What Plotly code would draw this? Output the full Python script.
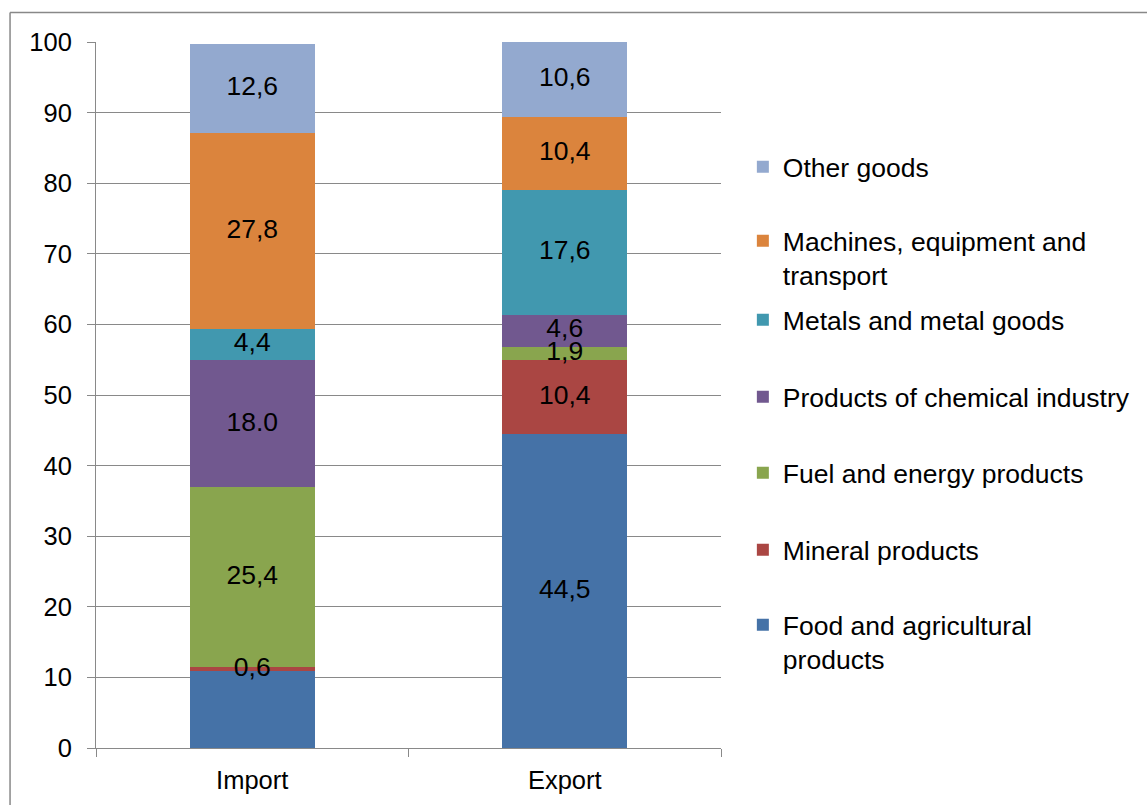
import plotly.graph_objects as go

categories = ["Import", "Export"]

series_names = [
    "Food and agricultural<br>products",
    "Mineral products",
    "Fuel and energy products",
    "Products of chemical industry",
    "Metals and metal goods",
    "Machines, equipment and<br>transport",
    "Other goods",
]
food = [10.9, 44.5]
mineral = [0.6, 10.4]
fuel = [25.4, 1.9]
chemical = [18.0, 4.6]
metals = [4.4, 17.6]
machines = [27.8, 10.4]
other = [12.6, 10.6]

food_labels = ["", "44,5"]
mineral_labels = ["0,6", "10,4"]
fuel_labels = ["25,4", "1,9"]
chemical_labels = ["18.0", "4,6"]
metals_labels = ["4,4", "17,6"]
machines_labels = ["27,8", "10,4"]
other_labels = ["12,6", "10,6"]

values = [food, mineral, fuel, chemical, metals, machines, other]
labels = [food_labels, mineral_labels, fuel_labels, chemical_labels,
          metals_labels, machines_labels, other_labels]
colors = ["#4572A7", "#AA4643", "#89A54E", "#71588F", "#4198AF", "#DB843D", "#93A9CF"]

FONT = "Liberation Sans, Arial, sans-serif"
W, H = 1147, 805
PLOT_L, PLOT_R, PLOT_T, PLOT_B = 96, 725, 42, 748   # page pixels
ML, MR, MT, MB = PLOT_L, W - PLOT_R, PLOT_T, H - PLOT_B
PW, PH = W - ML - MR, H - MT - MB

# legend first-line center y (page pixels) for each series
legend_py = [642, 550, 473, 397, 320, 258, 167]

fig = go.Figure()
layout_legends = {}
for i, (name, vals, col) in enumerate(zip(series_names, values, colors)):
    lname = "legend" if i == 0 else f"legend{i+1}"
    fig.add_trace(go.Bar(
        x=categories, y=vals, name=name,
        marker=dict(color=col, line=dict(width=0)),
        legend=lname, hoverinfo="skip",
    ))
    layout_legends[lname] = dict(
        x=(747 - PLOT_L) / PW, xanchor="left",
        y=1 - (legend_py[i] - PLOT_T) / PH, yanchor="middle",
        font=dict(family=FONT, size=26.5, color="black"),
        bgcolor="rgba(0,0,0,0)", valign="top", itemclick=False,
        tracegroupgap=0,
    )

# segment labels drawn on top of all bars
lx, ly, lt = [], [], []
base = [0.0] * len(categories)
for vals, lab in zip(values, labels):
    for j, c in enumerate(categories):
        lx.append(c)
        ly.append(base[j] + vals[j] / 2)
        lt.append(lab[j])
        base[j] += vals[j]
fig.add_trace(go.Scatter(
    x=lx, y=ly, text=lt, mode="text", showlegend=False, hoverinfo="skip",
    textfont=dict(family=FONT, size=26.5, color="black"),
))

fig.update_layout(
    width=W, height=H,
    margin=dict(l=ML, r=MR, t=MT, b=MB),
    barmode="stack", bargap=0.6,
    plot_bgcolor="white", paper_bgcolor="white",
    showlegend=True,
    **layout_legends,
)
fig.update_yaxes(
    range=[0, 100], dtick=10, showgrid=True, gridcolor="#898989", gridwidth=1,
    showline=True, linecolor="#898989", linewidth=1,
    ticks="outside", ticklen=8, tickcolor="#898989",
    tickfont=dict(family=FONT, size=25.5, color="black"),
    ticklabelstandoff=10, zeroline=False, fixedrange=True,
)
fig.update_xaxes(
    showline=True, linecolor="#898989", linewidth=1,
    ticks="outside", ticklen=8, tickcolor="#898989", tickson="boundaries",
    tickfont=dict(family=FONT, size=25.5, color="black"),
    ticklabelstandoff=9, fixedrange=True,
)
# outer chart border (left and top edges visible)
bx = (9.5 - PLOT_L) / PW
by = 1 + (PLOT_T - 12.5) / PH
fig.add_shape(type="line", xref="paper", yref="paper", x0=bx, x1=bx, y0=-0.2, y1=by,
              line=dict(color="#888888", width=1.5))
fig.add_shape(type="line", xref="paper", yref="paper", x0=bx, x1=1.8, y0=by, y1=by,
              line=dict(color="#888888", width=1.5))

fig.write_html(
    "out.html",
    config={"displayModeBar": False},
    post_script="document.body.style.margin='0';"
                "document.documentElement.style.overflow='hidden';",
)
